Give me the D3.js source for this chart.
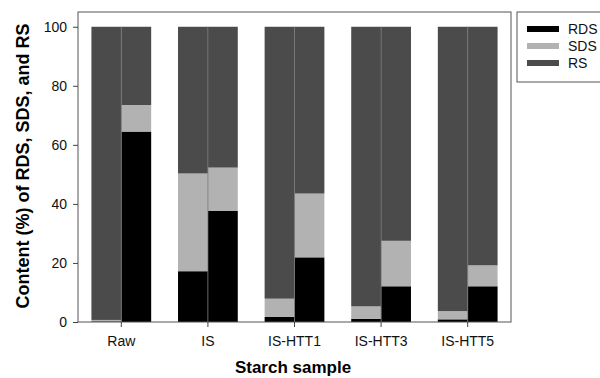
<!DOCTYPE html>
<html>
<head>
<meta charset="utf-8">
<script src="https://cdn.jsdelivr.net/npm/d3@7"></script>
<style>
  body { margin: 0; background: #fff; }
  text { font-family: "Liberation Sans", Arial, sans-serif; }
</style>
</head>
<body>
<div id="chart"></div>
<script>
// --- data ---
const samples = ["Raw", "IS", "IS-HTT1", "IS-HTT3", "IS-HTT5"];
const pair = ["a", "b"];
const fractions = ["RDS", "SDS", "RS"];
const rdsA = [0.2, 17.2, 1.7, 1.1, 0.9];
const sdsA = [0.5, 33.1, 6.2, 4.2, 2.8];
const rsA = [99.3, 49.7, 92.1, 94.7, 96.3];
const rdsB = [64.5, 37.6, 21.9, 12.1, 12.1];
const sdsB = [9.0, 14.7, 21.6, 15.4, 7.1];
const rsB = [26.5, 47.7, 56.5, 72.5, 80.8];
const yTicks = [0, 20, 40, 60, 80, 100];

const colors = { RDS: "#000000", SDS: "#b2b2b2", RS: "#4b4b4b" };

// --- setup ---
const width = 600, height = 378;
const margin = { top: 12, right: 89, bottom: 56, left: 78 };
const w = width - margin.left - margin.right;
const h = height - margin.top - margin.bottom;

const svg = d3.select("#chart").append("svg")
  .attr("width", width).attr("height", height);
const g = svg.append("g").attr("transform", `translate(${margin.left},${margin.top})`);

const x = d3.scaleBand().domain(samples).range([0, w])
  .paddingInner(0.31).paddingOuter(0.155);
const xSub = d3.scaleBand().domain(pair).range([0, x.bandwidth()]);
const y = d3.scaleLinear().domain([0, 105]).range([h, 0]);

// build rows
const rows = [];
samples.forEach((s, i) => {
  rows.push({ sample: s, bar: "a", RDS: rdsA[i], SDS: sdsA[i], RS: rsA[i] });
  rows.push({ sample: s, bar: "b", RDS: rdsB[i], SDS: sdsB[i], RS: rsB[i] });
});
const stacked = d3.stack().keys(fractions)(rows);

stacked.forEach(layer => {
  g.append("g").selectAll("rect")
    .data(layer)
    .join("rect")
    .attr("x", d => x(d.data.sample) + xSub(d.data.bar))
    .attr("width", xSub.bandwidth())
    .attr("y", d => y(d[1]))
    .attr("height", d => y(d[0]) - y(d[1]))
    .attr("fill", colors[layer.key]);
});

// thin divider between paired bars
g.append("g").selectAll("line")
  .data(samples)
  .join("line")
  .attr("x1", d => x(d) + xSub("b"))
  .attr("x2", d => x(d) + xSub("b"))
  .attr("y1", y(100))
  .attr("y2", h)
  .attr("stroke", "#777")
  .attr("stroke-width", 0.8);

// frame
g.append("rect")
  .attr("width", w).attr("height", h)
  .attr("fill", "none").attr("stroke", "#555").attr("stroke-width", 1);

// axes
const yAxis = g.append("g")
  .call(d3.axisLeft(y).tickValues(yTicks).tickSize(5).tickPadding(6));
const xAxis = g.append("g")
  .attr("transform", `translate(0,${h})`)
  .call(d3.axisBottom(x).tickSize(5).tickPadding(9));
[yAxis, xAxis].forEach(a => {
  a.select(".domain").remove();
  a.selectAll("line").attr("stroke", "#444");
  a.selectAll("text").attr("font-size", 14).attr("fill", "#111")
    .attr("font-family", "Liberation Sans, Arial, sans-serif");
});

// titles
svg.append("text")
  .attr("x", 293)
  .attr("y", 373)
  .attr("text-anchor", "middle")
  .attr("font-size", 17).attr("font-weight", "bold")
  .text("Starch sample");

svg.append("text")
  .attr("transform", `translate(29,166) rotate(-90)`)
  .attr("text-anchor", "middle")
  .attr("font-size", 18).attr("font-weight", "bold")
  .text("Content (%) of RDS, SDS, and RS");

// legend
const legend = svg.append("g").attr("transform", "translate(517,12)");
legend.append("rect")
  .attr("width", 90).attr("height", 70)
  .attr("fill", "#fff").attr("stroke", "#555");
fractions.forEach((k, i) => {
  legend.append("rect")
    .attr("x", 10).attr("y", 14 + i * 17)
    .attr("width", 32).attr("height", 6)
    .attr("fill", colors[k]);
  legend.append("text")
    .attr("x", 51).attr("y", 17 + i * 17)
    .attr("dy", "0.35em")
    .attr("font-size", 14).attr("fill", "#111")
    .text(k);
});
</script>
</body>
</html>
